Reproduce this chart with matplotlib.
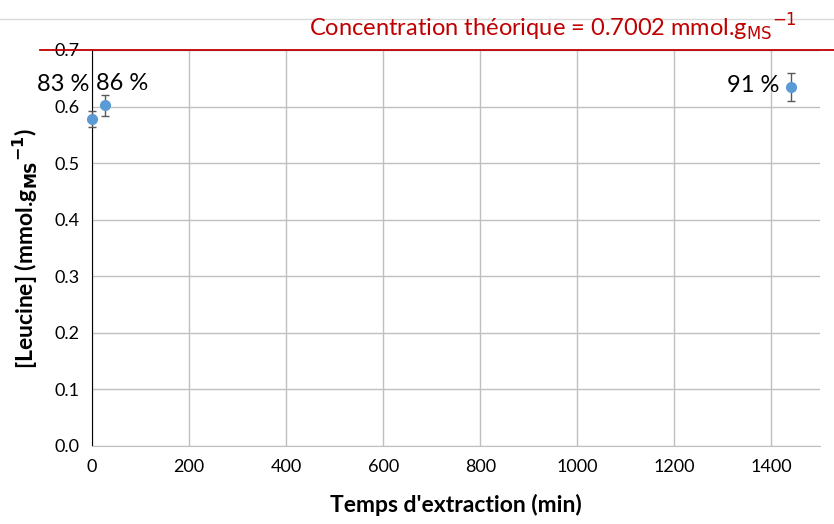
import numpy as np
import matplotlib.pyplot as plt

plt.rcParams['font.family'] = ['Lato', 'DejaVu Sans']

# data
temps = [0, 27, 1440]
leucine = [0.578, 0.602, 0.634]
erreur = [0.014, 0.019, 0.025]
labels = ['83 %', '86 %', '91 %']
c_theo = 0.7002

fig = plt.figure(figsize=(8.34, 5.24), dpi=100)
ax = fig.add_axes([92/834, 78/524, 728/834, 396/524])

ax.errorbar(temps, leucine, yerr=erreur, fmt='o', color='#5B9BD5', markersize=7,
            ecolor='#595959', elinewidth=1, capsize=3, capthick=1, zorder=5, clip_on=False)

# theoretical concentration line, runs past the axes like in the excel chart
ax.axhline(c_theo, xmin=-0.071, xmax=1.02, color='#C00000', lw=1.3, clip_on=False, zorder=6)
fig.text(553/834, 1 - 27/524, 'Concentration théorique = 0.7002 mmol.g$_{\\mathrm{MS}}$$^{\\mathrm{-1}}$',
         color='#C00000', fontsize=17, ha='center', va='center')
fig.add_artist(plt.Line2D([0, 1], [1 - 19/524, 1 - 19/524], color='#D9D9D9', lw=1))

offsets = [(-29, 35, 'center'), (17, 22, 'center'), (-12, 2, 'right')]
for x, y, lab, (dx, dy, ha) in zip(temps, leucine, labels, offsets):
    ax.annotate(lab, (x, y), xytext=(dx, dy), textcoords='offset pixels',
                ha=ha, va='center', fontsize=17, annotation_clip=False)

ax.set_xlim(0, 1500)
ax.set_ylim(0, 0.7)
ax.set_xticks(np.arange(0, 1401, 200))
ax.set_yticks(np.arange(0, 0.71, 0.1))
ax.set_yticklabels(['%.1f' % v for v in np.arange(0, 0.71, 0.1)])
ax.tick_params(length=0, labelsize=13, pad=9)
ax.grid(True, color='#BFBFBF', lw=1)
ax.set_axisbelow(True)
for s in ['top', 'right']:
    ax.spines[s].set_visible(False)
ax.spines['left'].set_color('black')
ax.spines['bottom'].set_color('#BFBFBF')

ax.set_xlabel("Temps d'extraction (min)", fontsize=16.5, fontweight='bold', labelpad=14)
ax.set_ylabel('[Leucine] (mmol.g$_{\\mathbf{MS}}$$^{\\mathbf{-1}}$)', fontsize=16.5,
              fontweight='bold', labelpad=10)

plt.savefig('out.png', dpi=100)
